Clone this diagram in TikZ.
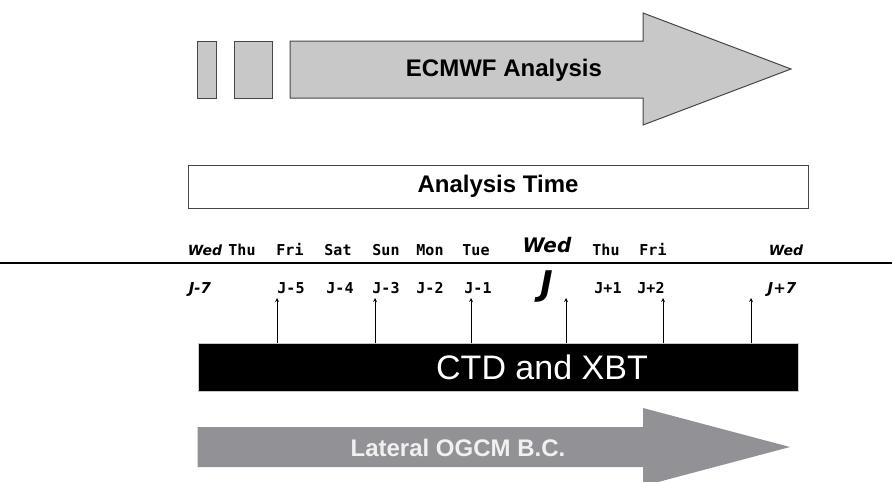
\documentclass[tikz,border=0pt]{standalone}
\usepackage{fontspec}
\setmainfont{Liberation Sans}
\newfontfamily\monolabel{DejaVu Sans Mono}
\newfontfamily\obliquelabel{DejaVu Sans}
\usepackage{tikz}
\definecolor{lightgrey}{RGB}{200,200,200}
\definecolor{edgegrey}{RGB}{70,70,70}
\definecolor{midgrey}{RGB}{146,146,150}

\begin{document}
\begin{tikzpicture}[x=1pt,y=-1pt]
        % Define styles
        \tikzset{
            block/.style={rectangle, draw=edgegrey, fill=lightgrey, line width=1pt, inner sep=0pt, minimum height=57pt},
            timebox/.style={rectangle, draw=edgegrey, line width=1pt, minimum width=620pt, minimum height=43pt, font=\fontsize{24}{28}\selectfont\bfseries},
            ctdbox/.style={rectangle, draw=lightgrey, fill=black, minimum width=600pt, minimum height=48pt, inner sep=0pt},
            bigtext/.style={font=\fontsize{24}{28}\selectfont\bfseries, inner sep=0pt},
            day/.style={font=\monolabel\fontsize{15}{17}\selectfont\bfseries, inner sep=0pt, anchor=base},
            dayital/.style={font=\obliquelabel\fontsize{14}{16}\selectfont\bfseries\itshape, inner sep=0pt, anchor=base},
            arrow/.style={->,>=stealth, line width=0.8pt}
        }
        \useasboundingbox (0,0) rectangle (892,482);

        % Analysis arrows
        \filldraw[draw=edgegrey, fill=lightgrey, line width=1pt] (290,41) -- (643,41) -- (643,13) -- (791,69) -- (643,125) -- (643,98) -- (290,98) -- cycle;
        \node[block, minimum width=18.5pt] (bar_1) at (206.75,69.5) {};
        \node[block, minimum width=38pt] (bar_2) at (253,69.5) {};
        \node[bigtext] (ecmwf) at (504,70) {ECMWF Analysis};

        \node[timebox] (analysis_time) at (498,186.5) {Analysis Time};

        % Time axis
        \coordinate (axis_left) at (0,263);
        \coordinate (axis_right) at (892,263);
        \draw[line width=2pt] (axis_left) -- (axis_right);

        % Days
        \node[dayital] (day_1) at (205,255) {Wed};
        \node[day] (day_2) at (242,255) {Thu};
        \node[day] (day_3) at (290,255) {Fri};
        \node[day] (day_4) at (338,255) {Sat};
        \node[day] (day_5) at (386,255) {Sun};
        \node[day] (day_6) at (430,255) {Mon};
        \node[day] (day_7) at (476,255) {Tue};
        \node[dayital, font=\obliquelabel\fontsize{20}{24}\selectfont\bfseries\itshape] (day_8) at (547,252) {Wed};
        \node[day] (day_9) at (606,255) {Thu};
        \node[day] (day_10) at (653,255) {Fri};
        \node[dayital] (day_11) at (786,255) {Wed};

        % J labels
        \node[dayital, font=\obliquelabel\fontsize{15}{17}\selectfont\bfseries\itshape] (j_1) at (200,293) {J-7};
        \node[day] (j_2) at (291,293) {J-5};
        \node[day] (j_3) at (340,293) {J-4};
        \node[day] (j_4) at (386,293) {J-3};
        \node[day] (j_5) at (430,293) {J-2};
        \node[day] (j_6) at (478,293) {J-1};
        \node[dayital, font=\obliquelabel\fontsize{34}{38}\selectfont\bfseries\itshape] (j_7) at (547,295) {J};
        \node[day] (j_8) at (608,293) {J+1};
        \node[day] (j_9) at (651,293) {J+2};
        \node[dayital, font=\obliquelabel\fontsize{15}{17}\selectfont\bfseries\itshape] (j_10) at (782,293) {J+7};

        % CTD and XBT
        \node[ctdbox] (ctd) at (497.75,367) {};
        \node[font=\fontsize{34}{38}\selectfont, text=white, inner sep=0pt] (ctd_text) at (542,367) {CTD and XBT};

        % Arrows
        \coordinate (tip_1) at (277,298);
        \coordinate (tip_2) at (375,298);
        \coordinate (tip_3) at (471,298);
        \coordinate (tip_4) at (566,298);
        \coordinate (tip_5) at (663,298);
        \coordinate (tip_6) at (751,298);
        \draw[arrow] (ctd.north -| tip_1) -- (tip_1);
        \draw[arrow] (ctd.north -| tip_2) -- (tip_2);
        \draw[arrow] (ctd.north -| tip_3) -- (tip_3);
        \draw[arrow] (ctd.north -| tip_4) -- (tip_4);
        \draw[arrow] (ctd.north -| tip_5) -- (tip_5);
        \draw[arrow] (ctd.north -| tip_6) -- (tip_6);

        % Boundary conditions
        \fill[midgrey] (197.5,427) -- (643,427) -- (643,408) -- (790,447) -- (643,486) -- (643,467) -- (197.5,467) -- cycle;
        \node[bigtext, text=white!94!black] (lateral) at (458,448) {Lateral OGCM B.C.};
\end{tikzpicture}
\end{document}
